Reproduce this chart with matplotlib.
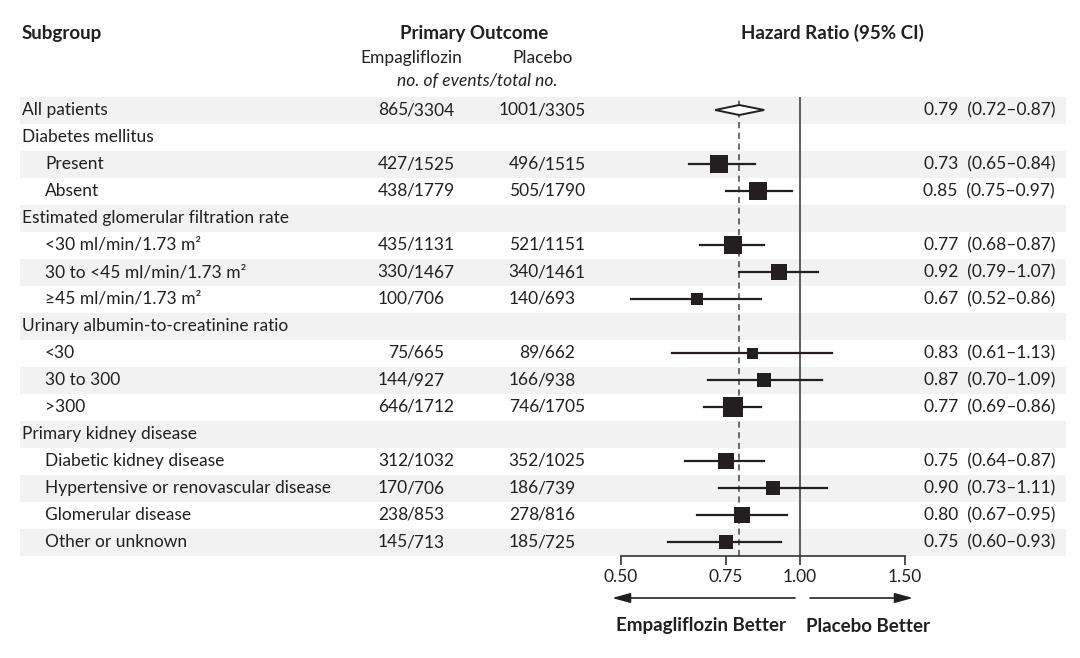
import matplotlib
matplotlib.use("Agg")
import matplotlib.pyplot as plt
from matplotlib.patches import Rectangle
from matplotlib.ticker import NullLocator, FixedLocator, FixedFormatter

plt.rcParams['font.family'] = ['Lato', 'DejaVu Sans']

# data
labels = ["All patients", "Diabetes mellitus", "Present", "Absent",
          "Estimated glomerular filtration rate",
          "<30 ml/min/1.73 m²", "30 to <45 ml/min/1.73 m²", "≥45 ml/min/1.73 m²",
          "Urinary albumin-to-creatinine ratio", "<30", "30 to 300", ">300",
          "Primary kidney disease", "Diabetic kidney disease",
          "Hypertensive or renovascular disease", "Glomerular disease",
          "Other or unknown"]
level = [0, 0, 1, 1, 0, 1, 1, 1, 0, 1, 1, 1, 0, 1, 1, 1, 1]
empa = ["865/3304", "", "427/1525", "438/1779", "", "435/1131", "330/1467",
        "100/706", "", "75/665", "144/927", "646/1712", "", "312/1032",
        "170/706", "238/853", "145/713"]
placebo = ["1001/3305", "", "496/1515", "505/1790", "", "521/1151", "340/1461",
           "140/693", "", "89/662", "166/938", "746/1705", "", "352/1025",
           "186/739", "278/816", "185/725"]
hr = [0.79, None, 0.73, 0.85, None, 0.77, 0.92, 0.67, None, 0.83, 0.87, 0.77,
      None, 0.75, 0.90, 0.80, 0.75]
lo = [0.72, None, 0.65, 0.75, None, 0.68, 0.79, 0.52, None, 0.61, 0.70, 0.69,
      None, 0.64, 0.73, 0.67, 0.60]
hi = [0.87, None, 0.84, 0.97, None, 0.87, 1.07, 0.86, None, 1.13, 1.09, 0.86,
      None, 0.87, 1.11, 0.95, 0.93]
ticks = [0.5, 0.75, 1.0, 1.5]
tick_labels = ["0.50", "0.75", "1.00", "1.50"]

W, H = 1080, 658
row0, step = 110, 27
txt = "#231f20"
fs = 12.5
hfs = 13.5

fig = plt.figure(figsize=(W / 100, H / 100), dpi=100)
bg = fig.add_axes([0, 0, 1, 1])
bg.set_xlim(0, W)
bg.set_ylim(H, 0)
bg.axis("off")

rows_y = [row0 + step * i for i in range(len(labels))]

# shaded stripes
for i, y in enumerate(rows_y):
    if i % 2 == 0:
        bg.add_patch(Rectangle((20, y - step / 2), 1046, step, color="#f2f2f2", lw=0, zorder=0))

# headers
bg.text(22, 33, "Subgroup", fontsize=hfs, fontweight="bold", color=txt, va="center")
bg.text(474, 33, "Primary Outcome", fontsize=hfs, fontweight="bold", color=txt, va="center", ha="center")
bg.text(411, 58, "Empagliflozin", fontsize=fs, color=txt, va="center", ha="center")
bg.text(543, 58, "Placebo", fontsize=fs, color=txt, va="center", ha="center")
bg.text(477, 81, "no. of events/total no.", fontsize=fs, style="italic", color=txt, va="center", ha="center")
bg.text(832, 33, "Hazard Ratio (95% CI)", fontsize=hfs, fontweight="bold", color=txt, va="center", ha="center")

for i, y in enumerate(rows_y):
    bg.text(22 + 23 * level[i], y, labels[i], fontsize=fs, color=txt, va="center")
    for col, sx in ((empa, 406), (placebo, 537)):
        if col[i]:
            num, den = col[i].split("/")
            bg.text(sx + 2, y, num, fontsize=fs, color=txt, va="center", ha="right")
            bg.text(sx, y, "/" + den, fontsize=fs, color=txt, va="center", ha="left")
    if hr[i] is not None:
        bg.text(1055, y, f"{hr[i]:.2f}  ({lo[i]:.2f}–{hi[i]:.2f})", fontsize=fs,
                color=txt, va="center", ha="right")

# forest panel
ax = fig.add_axes([621 / W, 1 - 556 / H, 284 / W, (556 - 97) / H])
ax.patch.set_alpha(0)
ax.set_xscale("log")
ax.set_xlim(0.5, 1.5)
ax.set_ylim(556, 97)
for s in ("top", "left", "right"):
    ax.spines[s].set_visible(False)
ax.spines["bottom"].set_linewidth(1.2)
ax.spines["bottom"].set_color("#333333")
ax.xaxis.set_major_locator(FixedLocator(ticks))
ax.xaxis.set_major_formatter(FixedFormatter(tick_labels))
ax.xaxis.set_minor_locator(NullLocator())
ax.tick_params(axis="x", direction="out", length=6.5, width=1.2, color="#333333",
               pad=3, labelsize=fs, labelcolor=txt)
ax.set_yticks([])

ax.axvline(1.0, color="#333333", lw=1.1, zorder=1)
ax.axvline(hr[0], color="#444444", lw=1.1, ls=(0, (4, 3)), zorder=1)

for i, y in enumerate(rows_y):
    if hr[i] is None:
        continue
    if i == 0:
        ax.fill([lo[i], hr[i], hi[i], hr[i]], [y, y - 5, y, y + 5],
                facecolor="white", edgecolor=txt, lw=1.4, zorder=3)
        continue
    events = int(empa[i].split("/")[0]) + int(placebo[i].split("/")[0])
    side = 11 * (events / 164) ** 0.28
    ax.plot([lo[i], hi[i]], [y, y], color=txt, lw=1.6, zorder=2, clip_on=False)
    ax.plot(hr[i], y, marker="s", ms=side * 0.72, color=txt, mew=0, zorder=3, clip_on=False)

# direction arrows
arrow = dict(arrowstyle="-|>,head_length=1.1,head_width=0.3", color=txt, lw=1.2, shrinkA=0, shrinkB=0)
bg.annotate("", xy=(612, 598), xytext=(795, 598), arrowprops=arrow)
bg.annotate("", xy=(913, 598), xytext=(810, 598), arrowprops=arrow)
bg.text(701, 626, "Empagliflozin Better", fontsize=hfs, fontweight="bold", color=txt, va="center", ha="center")
bg.text(868, 626, "Placebo Better", fontsize=hfs, fontweight="bold", color=txt, va="center", ha="center")

fig.savefig("out.png", dpi=100)
